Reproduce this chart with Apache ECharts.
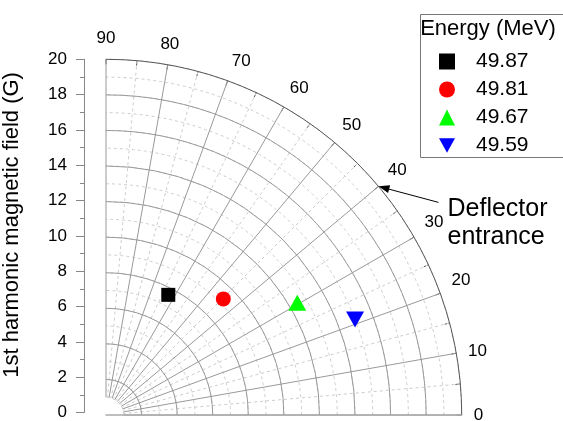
<!DOCTYPE html>
<html>
<head>
<meta charset="utf-8">
<script src="https://cdn.jsdelivr.net/npm/echarts@6/dist/echarts.min.js"></script>
<style>html,body{margin:0;padding:0;background:#fff}#c{width:563px;height:421px}</style>
</head>
<body>
<div id="c"></div>
<script>
// ---- data ----
var energies = ['49.87', '49.81', '49.67', '49.59'];
var fieldG = [7.61, 9.28, 12.47, 15.0];      // 1st harmonic amplitude (G)
var phaseDeg = [62.6, 44.7, 30.4, 21.0];     // phase (deg)
var symbols = ['rect', 'circle', 'triangle', 'path://M0,0 L10,0 L5,9 Z'];
var colors = ['#000000', '#ff0000', '#00ff00', '#0000ff'];
var symSizes = [[14, 14], [15, 15], [18, 16], [18, 16]];
var rMin = 0, rMax = 20, rStep = 2;
var angMin = 0, angMax = 90, angStep = 10;
var deflectorAngle = 40;

var FONT = '"Liberation Sans", Arial, sans-serif';
var cx = 106, cy = 415, R = 355.7;
var chart = echarts.init(document.getElementById('c'));

var series = energies.map(function (e, i) {
  return {
    name: e, type: 'scatter', coordinateSystem: 'polar', polarIndex: 0,
    symbol: symbols[i], symbolSize: symSizes[i],
    itemStyle: { color: colors[i], opacity: 1 },
    emphasis: { disabled: true },
    data: [[fieldG[i], phaseDeg[i]]], z: 10
  };
});

// solid circle colours: last one (outer edge) darker
var circleColors = [];
for (var v = rMin; v <= rMax; v += rStep) circleColors.push(v === rMax ? '#555' : '#999');

chart.setOption({
  animation: false,
  textStyle: { fontFamily: FONT },
  grid: { left: 83, top: cy - R, width: 1, height: R },
  xAxis: { show: false, type: 'value' },
  yAxis: {
    type: 'value', min: rMin, max: rMax, interval: rStep, position: 'left',
    name: '1st harmonic magnetic field (G)', nameLocation: 'middle', nameGap: 61,
    nameTextStyle: { fontSize: 22, color: '#000', fontFamily: FONT, padding: [0, 0, 0, 22] },
    axisLine: { show: true, lineStyle: { color: '#888', width: 1 } },
    axisTick: { show: true, length: 8, lineStyle: { color: '#888' } },
    minorTick: { show: true, splitNumber: 2, length: 4, lineStyle: { color: '#888' } },
    axisLabel: { fontSize: 17, color: '#000', margin: 17, fontFamily: FONT },
    splitLine: { show: false }
  },
  polar: [
    { center: [cx, cy], radius: [0, R] },
    { center: [cx, cy], radius: [R / rMax, R] },
    { center: [cx, cy], radius: [0, R] }
  ],
  radiusAxis: [
    {
      polarIndex: 0, type: 'value', min: rMin, max: rMax, interval: rStep,
      axisLine: { show: true, lineStyle: { color: '#aaa', width: 1.5 } },
      axisTick: { show: false }, axisLabel: { show: false },
      splitLine: { show: true, lineStyle: { color: circleColors, width: 1 } },
      z: 3
    },
    {
      polarIndex: 1, type: 'value', min: 1, max: rMax, interval: 1,
      axisLine: { show: false }, axisTick: { show: false }, axisLabel: { show: false },
      splitLine: { show: false }
    },
    {
      polarIndex: 2, type: 'value', min: rMin, max: rMax, interval: 1,
      axisLine: { show: false }, axisTick: { show: false }, axisLabel: { show: false },
      splitLine: { show: true, lineStyle: { color: '#ccc', type: [3, 3], width: 1 } },
      z: 1
    }
  ],
  angleAxis: [
    {
      polarIndex: 0, type: 'value', min: angMin, max: angMax, interval: angStep,
      startAngle: 0, endAngle: 90, clockwise: false,
      axisLine: { show: false }, axisTick: { show: false }, axisLabel: { show: false },
      splitLine: { show: false }
    },
    {
      polarIndex: 1, type: 'value', min: angMin, max: angMax, interval: angStep,
      startAngle: 0, endAngle: 90, clockwise: false,
      axisLine: { show: false },
      axisTick: { show: true, inside: true, length: 5, lineStyle: { color: '#555' } },
      minorTick: { show: true, splitNumber: 2, length: 5, lineStyle: { color: '#555' } },
      axisLabel: { fontSize: 17, color: '#000', margin: 12, fontFamily: FONT },
      splitLine: { show: true, lineStyle: { color: '#999', width: 1 } },
      minorSplitLine: { show: true, lineStyle: { color: '#ccc', type: [3, 3], width: 1 } },
      z: 2
    },
    {
      polarIndex: 2, type: 'value', min: angMin, max: angMax, interval: angStep,
      startAngle: 0, endAngle: 90, clockwise: false,
      axisLine: { show: false }, axisTick: { show: false }, axisLabel: { show: false },
      splitLine: { show: false }
    }
  ],
  legend: {
    orient: 'vertical', left: 434, top: 46,
    itemWidth: 16, itemHeight: 16, itemGap: 7,
    data: energies,
    textStyle: { fontSize: 21, color: '#000', lineHeight: 21, padding: [0, 0, 0, 16], fontFamily: FONT }
  },
  series: series
});

var p = chart.convertToPixel({ seriesIndex: 0 }, [rMax, deflectorAngle]);
var ux = 0.966, uy = 0.258, px = -0.258, py = 0.966;
var bx = p[0] + 11 * ux, by = p[1] + 11 * uy;
chart.setOption({
  graphic: [
    { type: 'rect', left: 418, top: 12, shape: { width: 143, height: 143 },
      style: { fill: 'none', stroke: '#777', lineWidth: 1 }, z: 20 },
    { type: 'text', x: 488, y: 29, z: 21,
      style: { text: 'Energy (MeV)', font: '22px ' + FONT, fill: '#000', align: 'center', verticalAlign: 'middle' } },
    { type: 'line', z: 21, shape: { x1: p[0] + 5 * ux, y1: p[1] + 5 * uy, x2: p[0] + 60, y2: p[1] + 16 },
      style: { stroke: '#000', lineWidth: 1 } },
    { type: 'polygon', z: 21, shape: { points: [[p[0], p[1]], [bx + 4 * px, by + 4 * py], [bx - 4 * px, by - 4 * py]] },
      style: { fill: '#000' } },
    { type: 'text', x: p[0] + 69, y: p[1] + 9, z: 21,
      style: { text: 'Deflector\nentrance', font: '25px ' + FONT, lineHeight: 28, fill: '#000', align: 'left', verticalAlign: 'top' } }
  ]
});
</script>
</body>
</html>
